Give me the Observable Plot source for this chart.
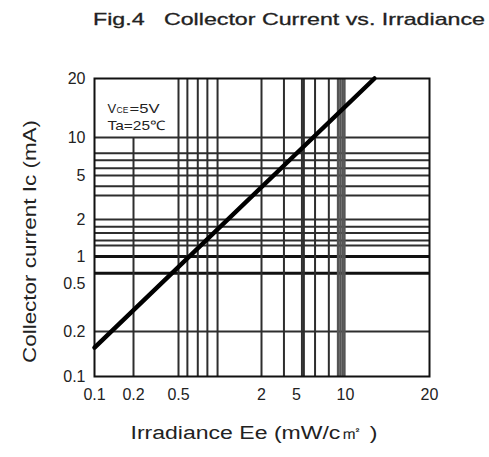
<!DOCTYPE html>
<html><head><meta charset="utf-8">
<script src="https://cdn.jsdelivr.net/npm/d3@7"></script>
<script src="https://cdn.jsdelivr.net/npm/@observablehq/plot@0.6"></script>
<style>
body{margin:0;background:#fff;font-family:"Liberation Sans",Arial,sans-serif;}
#title{display:block;}
#chart svg{display:block;}
</style></head><body>
<svg id="title" width="489" height="40"></svg>
<div id="chart"></div>
<script>
const title = "Fig.4   Collector Current vs. Irradiance";
const xLabel = "Irradiance Ee (mW/c㎡ )";
const yLabel = "Collector current Ic (mA)";
const xTicks = [0.1, 0.2, 0.5, 2, 5, 10, 20];
const yTicks = [0.1, 0.2, 0.5, 1, 2, 5, 10, 20];
const xGrid = [0.5, 0.58, 0.69, 0.81, 0.96, 2, 3.6, 5.4, 5.55, 6.5, 7.9];
const xGridShort = [0.2];            // drawn only from 0.1 to 10 mA
const xGridBand = [9.0, 9.3, 9.6, 9.85];
// horizontal grid lines
const yGrid = [10, 7.5, 6.6, 5.7, 5, 4, 3.3, 2, 1.75, 1.55, 1.35, 1.23, 0.2];
const yGridThick = [1, 0.65];
// characteristic line
const irradiance = [0.1, 12.7];
const current = [0.156, 20];
const condV = "V", condSub = "CE", condV2 = "=5V", condT = "Ta=25℃";

const ns = "http://www.w3.org/2000/svg";
const t = document.createElementNS(ns, "text");
t.setAttribute("x", 93); t.setAttribute("y", 25);
t.setAttribute("textLength", 392); t.setAttribute("lengthAdjust", "spacingAndGlyphs");
t.setAttribute("font-size", 17); t.setAttribute("fill", "#222");
t.setAttribute("stroke", "#222"); t.setAttribute("stroke-width", 0.3);
t.setAttribute("font-family", "Liberation Sans, Arial, sans-serif");
t.style.whiteSpace = "pre";
t.textContent = title;
document.getElementById("title").appendChild(t);

const lineData = irradiance.map((x, i) => ({x, y: current[i]}));
const gridColor = "#2e2e2e";

const chart = Plot.plot({
  width: 489,
  height: 417,
  marginTop: 38,
  marginBottom: 81,
  marginLeft: 94,
  marginRight: 60,
  style: {fontSize: "16px", fontFamily: "Liberation Sans, Arial, sans-serif", color: "#222", background: "#fff"},
  x: {type: "log", domain: xTicks, range: [94, 133, 178, 261, 296, 345, 429],
      ticks: xTicks, tickFormat: d => `${d}`, tickSize: 0, tickPadding: 12, label: null},
  y: {type: "log", domain: yTicks, range: [336, 291, 243, 216, 179, 135, 97, 38],
      ticks: yTicks, tickFormat: d => `${d}`, tickSize: 0, tickPadding: 9, label: null},
  marks: [
    Plot.ruleY(yGrid, {stroke: gridColor, strokeWidth: 2}),
    Plot.ruleY(yGridThick, {stroke: "#111", strokeWidth: 3}),
    Plot.ruleX(xGrid, {stroke: gridColor, strokeWidth: 2}),
    Plot.ruleX(xGridShort, {y1: 0.1, y2: 10, stroke: gridColor, strokeWidth: 2}),
    Plot.ruleX(xGridBand, {stroke: "#555", strokeWidth: 2.4}),
    Plot.frame({stroke: "#111", strokeWidth: 2}),
    Plot.line(lineData, {x: "x", y: "y", stroke: "#000", strokeWidth: 4.5}),
    Plot.text([condV], {frameAnchor: "top-left", dx: 13, dy: 25, textAnchor: "start", fontSize: 13, fill: "#222", text: d => d}),
    Plot.text([condSub], {frameAnchor: "top-left", dx: 22, dy: 28.5, textAnchor: "start", fontSize: 8.5, fill: "#222", text: d => d}),
    Plot.text([condV2], {frameAnchor: "top-left", dx: 35, dy: 25, textAnchor: "start", fontSize: 13, fill: "#222", text: d => d}),
    Plot.text([condT], {frameAnchor: "top-left", dx: 13, dy: 42, textAnchor: "start", fontSize: 13, fill: "#222", text: d => d}),
    Plot.text([yLabel], {frameAnchor: "left", dx: -64, dy: 14, rotate: -90, textAnchor: "middle", fontSize: 18, fill: "#222", text: d => d}),
    Plot.text([xLabel], {frameAnchor: "bottom", dx: -8, dy: 62, textAnchor: "middle", fontSize: 18, fill: "#222", text: d => d})
  ]
});
// stretch the axis titles and condition labels to the printed widths
for (const el of chart.querySelectorAll("text")) {
  if (el.textContent === yLabel) { el.setAttribute("textLength", 243); el.setAttribute("lengthAdjust", "spacingAndGlyphs"); }
  if (el.textContent === xLabel) { el.setAttribute("textLength", 247); el.setAttribute("lengthAdjust", "spacingAndGlyphs"); }
  if (el.textContent === condT) { el.setAttribute("textLength", 58); el.setAttribute("lengthAdjust", "spacingAndGlyphs"); }
  if (el.textContent === condV2) { el.setAttribute("textLength", 30); el.setAttribute("lengthAdjust", "spacingAndGlyphs"); }
}
document.getElementById("chart").appendChild(chart);
</script>
</body></html>
